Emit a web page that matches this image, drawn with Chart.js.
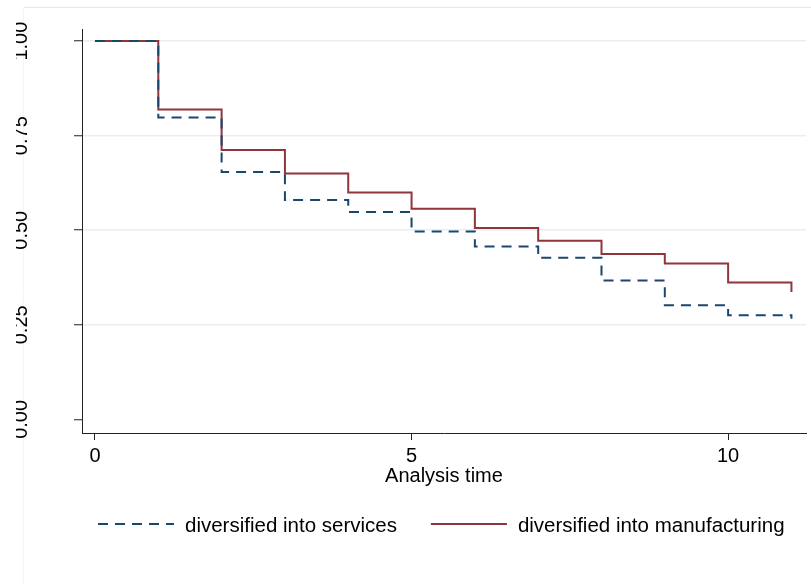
<!DOCTYPE html>
<html>
<head>
<meta charset="utf-8">
<script src="https://cdn.jsdelivr.net/npm/chart.js@4"></script>
<style>
  html, body { margin: 0; padding: 0; background: #fff; }
  #wrap { width: 811px; height: 584px; position: relative; }
</style>
</head>
<body>
<div id="wrap"><canvas id="km"></canvas></div>
<script>
// --- Data ---
const timePoints    = [0, 1, 2, 3, 4, 5, 6, 7, 8, 9, 10, 11];
const servicesSurv  = [1.00, 0.798, 0.654, 0.580, 0.548, 0.497, 0.457, 0.427, 0.367, 0.302, 0.275, 0.266];
const manufSurv     = [1.00, 0.819, 0.712, 0.650, 0.600, 0.557, 0.506, 0.472, 0.437, 0.412, 0.362, 0.337];
const seriesLabels  = ['diversified into services', 'diversified into manufacturing'];
const xTickValues   = [0, 5, 10];
const yTickValues   = [0, 0.25, 0.5, 0.75, 1];
const yTickLabels   = ['0.00', '0.25', '0.50', '0.75', '1.00'];
const xAxisTitle    = 'Analysis time';

// Stata s2color palette
const NAVY   = '#1a476f';
const MAROON = '#90353b';
const FONT   = 'Liberation Sans, Arial, Helvetica, sans-serif';

// --- Outer frame + rotated y tick labels (clipped like the original) ---
const stataFrame = {
  id: 'stataFrame',
  beforeDraw(chart) {
    const ctx = chart.ctx;
    ctx.save();
    ctx.lineWidth = 1;
    ctx.strokeStyle = '#e8e8e8';
    ctx.beginPath();
    ctx.moveTo(23, 7.5);
    ctx.lineTo(chart.width, 7.5);
    ctx.stroke();
    ctx.strokeStyle = '#f4f4f4';
    ctx.beginPath();
    ctx.moveTo(23.5, 7);
    ctx.lineTo(23.5, chart.height);
    ctx.stroke();
    ctx.restore();
  },
  afterDraw(chart) {
    const ctx = chart.ctx;
    const ys = chart.scales.y;
    ctx.save();
    ctx.beginPath();
    ctx.rect(16, 0, chart.width, chart.height);
    ctx.clip();
    ctx.font = '20px ' + FONT;
    ctx.fillStyle = '#000';
    ctx.textAlign = 'center';
    ctx.textBaseline = 'alphabetic';
    yTickValues.forEach((v, i) => {
      ctx.save();
      ctx.translate(27, ys.getPixelForValue(v));
      ctx.rotate(-Math.PI / 2);
      ctx.fillText(yTickLabels[i], 0, 0);
      ctx.restore();
    });
    ctx.restore();
  }
};

// --- Legend drawn Stata-style: long line sample + label, one row ---
const stataLegend = {
  id: 'stataLegend',
  afterDraw(chart) {
    const ctx = chart.ctx;
    const lineY = 524;
    let x = 98;
    ctx.save();
    ctx.font = '20.5px ' + FONT;
    ctx.textBaseline = 'alphabetic';
    chart.data.datasets.forEach(ds => {
      ctx.strokeStyle = ds.borderColor;
      ctx.lineWidth = ds.borderWidth;
      ctx.lineCap = 'butt';
      ctx.setLineDash(ds.borderDash || []);
      ctx.beginPath();
      ctx.moveTo(x, lineY);
      ctx.lineTo(x + 76, lineY);
      ctx.stroke();
      ctx.setLineDash([]);
      ctx.fillStyle = '#000';
      ctx.fillText(ds.label, x + 87, lineY + 7.5);
      x += 87 + ctx.measureText(ds.label).width + 34;
    });
    ctx.restore();
  }
};

const toPoints = vals => timePoints.map((t, i) => ({ x: t, y: vals[i] }));

new Chart(document.getElementById('km'), {
  type: 'line',
  data: {
    datasets: [
      {
        label: seriesLabels[0],
        data: toPoints(servicesSurv),
        borderColor: NAVY,
        borderWidth: 2,
        borderDash: [10, 7],
        stepped: 'before',
        pointRadius: 0,
        fill: false,
      },
      {
        label: seriesLabels[1],
        data: toPoints(manufSurv),
        borderColor: MAROON,
        borderWidth: 2,
        stepped: 'before',
        pointRadius: 0,
        fill: false,
      },
    ],
  },
  options: {
    responsive: true,
    maintainAspectRatio: false,
    animation: false,
    devicePixelRatio: 1,
    layout: { padding: { top: 29, right: 5, left: 0, bottom: 96 } },
    plugins: {
      legend: { display: false },
      tooltip: { enabled: false },
    },
    scales: {
      x: {
        type: 'linear',
        min: -0.205,
        max: 11.23,
        afterBuildTicks: s => { s.ticks = xTickValues.map(v => ({ value: v })); },
        afterFit: s => { s.height = 55; },
        ticks: {
          color: '#000',
          font: { family: FONT, size: 20 },
          padding: 4,
          maxRotation: 0,
          autoSkip: false,
          callback: v => String(v),
        },
        grid: { drawOnChartArea: false, drawTicks: true, tickLength: 7, tickColor: '#222', tickWidth: 1 },
        border: { display: true, color: '#222', width: 1 },
        title: {
          display: true,
          text: xAxisTitle,
          color: '#000',
          font: { family: FONT, size: 20 },
          padding: { top: 0, bottom: 0 },
        },
      },
      y: {
        min: -0.036,
        max: 1.032,
        afterBuildTicks: s => { s.ticks = yTickValues.map(v => ({ value: v })); },
        afterFit: s => { s.width = 82; },
        ticks: { display: false },
        grid: {
          color: c => (c.tick && c.tick.value === 0 ? 'rgba(0,0,0,0)' : '#e8eff2'),
          lineWidth: 1.5,
          drawTicks: true,
          tickLength: 8,
          tickColor: '#222',
          tickWidth: 1,
        },
        border: { display: true, color: '#222', width: 1 },
      },
    },
  },
  plugins: [stataFrame, stataLegend],
});
</script>
</body>
</html>
